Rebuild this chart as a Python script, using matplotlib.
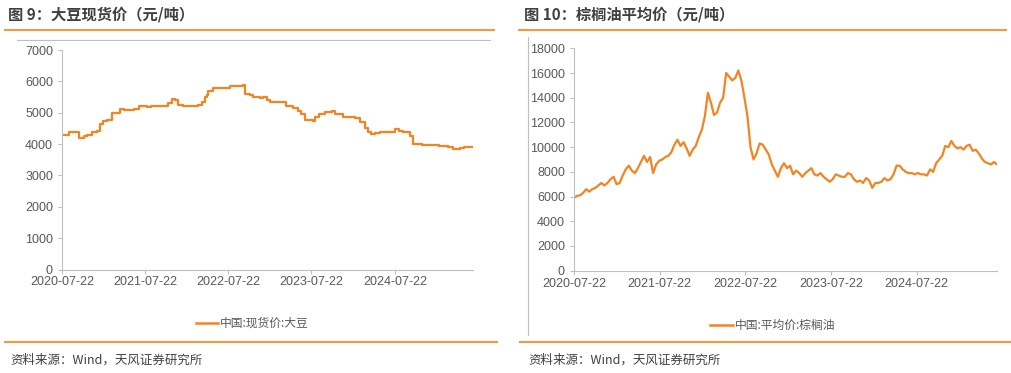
import pandas as pd
import matplotlib.pyplot as plt
from matplotlib.lines import Line2D

plt.rcParams['font.family'] = ['Noto Sans CJK SC', 'DejaVu Sans']

# Soybean spot price (step-like series): dates where the price changes and the new level
soy_dates = ['2020-07-22', '2020-08-20', '2020-09-10', '2020-10-03', '2020-10-25', '2020-11-10',
             '2020-11-30', '2020-12-22', '2021-01-06', '2021-01-20', '2021-02-04', '2021-02-26',
             '2021-04-01', '2021-04-20', '2021-06-01', '2021-06-23', '2021-07-29', '2021-08-15',
             '2021-10-10', '2021-11-01', '2021-11-16', '2021-11-28', '2021-12-15', '2022-01-06',
             '2022-03-13', '2022-03-27', '2022-04-10', '2022-04-18', '2022-04-26', '2022-05-17',
             '2022-07-29', '2022-09-26', '2022-10-03', '2022-10-25', '2022-11-09', '2022-12-10',
             '2022-12-22', '2023-01-06', '2023-01-22', '2023-03-05', '2023-04-01', '2023-05-03',
             '2023-05-25', '2023-06-08', '2023-06-25', '2023-07-29', '2023-08-06', '2023-08-25',
             '2023-09-18', '2023-10-20', '2023-11-01', '2023-12-08', '2024-01-05', '2024-01-28',
             '2024-02-20', '2024-03-12', '2024-03-28', '2024-04-10', '2024-04-28', '2024-05-16',
             '2024-07-21', '2024-08-10', '2024-08-27', '2024-09-25', '2024-10-09', '2024-10-21',
             '2024-11-20', '2024-12-21', '2025-01-30', '2025-03-12', '2025-04-05', '2025-05-02',
             '2025-05-20', '2025-06-20', '2025-06-30']
soy_values = [4280, 4380, 4400, 4180, 4250, 4300,
              4380, 4420, 4650, 4750, 4760, 4980,
              5130, 5080, 5130, 5200, 5170, 5200,
              5230, 5300, 5450, 5400, 5250, 5200,
              5250, 5350, 5500, 5550, 5700, 5780,
              5850, 5880, 5600, 5580, 5500, 5480,
              5500, 5400, 5350, 5350, 5200, 5150,
              5050, 4950, 4780, 4750, 4870, 4950,
              5020, 5050, 4950, 4870, 4870, 4820,
              4700, 4500, 4400, 4330, 4350, 4380,
              4480, 4420, 4380, 4250, 4000, 4000,
              3980, 3960, 3950, 3900, 3850, 3870,
              3900, 3920, 3900]

# Palm oil average price, read roughly every half month
palm_values = [5900, 6050, 6100, 6300, 6600, 6400, 6600, 6700, 6900, 7100,
               6900, 7100, 7400, 7600, 7000, 7100, 7700, 8200, 8500, 8100,
               7900, 8300, 8800, 9300, 8800, 9200, 7900, 8600, 8900, 9000,
               9200, 9300, 9600, 10200, 10600, 10100, 10400, 9900, 9300, 9800,
               10100, 10800, 11400, 12500, 14400, 13600, 12600, 12800, 13600, 14000,
               16000, 15700, 15400, 15600, 16200, 15400, 14000, 12500, 10000, 9000,
               9500, 10300, 10200, 9800, 9400, 8600, 8100, 7600, 8300, 8700,
               8300, 8500, 7800, 8100, 7900, 7600, 7900, 8100, 8300, 7800,
               7700, 7900, 7600, 7400, 7200, 7400, 7800, 7700, 7600, 7600,
               7900, 7800, 7400, 7200, 7300, 7100, 7500, 7300, 6700, 7100,
               7100, 7200, 7500, 7300, 7400, 7800, 8500, 8500, 8200, 8000,
               7900, 7900, 7800, 7900, 7800, 7800, 7700, 8200, 8000, 8700,
               9000, 9300, 10100, 10000, 10500, 10100, 9900, 10000, 9800, 10100,
               10200, 9700, 9800, 9500, 9100, 8800, 8700, 8600, 8800, 8600]
palm_dates = pd.date_range('2020-07-22', '2025-06-30', periods=len(palm_values))

tick_dates = pd.to_datetime(['2020-07-22', '2021-07-22', '2022-07-22', '2023-07-22', '2024-07-22'])
tick_labels = ['2020-07-22', '2021-07-22', '2022-07-22', '2023-07-22', '2024-07-22']

line_color = '#F28522'
rule_color = '#F39A3E'
grey = '#595959'
num_font = ['Liberation Sans', 'DejaVu Sans']

fig = plt.figure(figsize=(10.11, 3.73), dpi=100)


def style_axes(ax, ymax, ystep):
    ax.set_xlim(pd.Timestamp('2020-07-22'), pd.Timestamp('2025-06-30'))
    ax.set_ylim(0, ymax)
    ax.set_yticks(range(0, ymax + 1, ystep))
    ax.set_xticks(tick_dates)
    ax.set_xticklabels(tick_labels)
    for s in ['top', 'right']:
        ax.spines[s].set_visible(False)
    for s in ['left', 'bottom']:
        ax.spines[s].set_color('#BFBFBF')
        ax.spines[s].set_linewidth(0.8)
    ax.tick_params(axis='both', colors='#BFBFBF', labelcolor=grey, labelsize=9, length=3, width=0.8)
    ax.tick_params(axis='x', pad=2)
    for lab in ax.get_xticklabels() + ax.get_yticklabels():
        lab.set_family(num_font)


# left panel: soybean
ax1 = fig.add_axes([62 / 1011, 1 - 269.5 / 373, (473 - 62) / 1011, (269.5 - 50) / 373])
ax1.plot(pd.to_datetime(soy_dates), soy_values, color=line_color, lw=1.6, drawstyle='steps-post')
style_axes(ax1, 7000, 1000)

# right panel: palm oil
ax2 = fig.add_axes([574 / 1011, 1 - 270.7 / 373, (997 - 574) / 1011, (270.7 - 48.3) / 373])
ax2.plot(palm_dates, palm_values, color=line_color, lw=1.6)
style_axes(ax2, 18000, 2000)


# titles, rules, legends and source notes
def px(x, y):
    return x / 1011, 1 - y / 373


fig.text(*px(8, 15), '图 9：大豆现货价（元/吨）', fontsize=11, fontweight='bold', color='#404040', va='center')
fig.text(*px(524, 15), '图 10：棕榈油平均价（元/吨）', fontsize=11, fontweight='bold', color='#404040', va='center')

for x0, x1 in [(5, 494), (519, 1006)]:
    fig.add_artist(Line2D([x0 / 1011, x1 / 1011], [1 - 29.5 / 373] * 2, color=rule_color, lw=1.5))
for x0, x1 in [(5, 497), (520, 1010)]:
    fig.add_artist(Line2D([x0 / 1011, x1 / 1011], [1 - 342 / 373] * 2, color=rule_color, lw=1.5))

# chart frame pieces
fig.add_artist(Line2D([17 / 1011, 490 / 1011], [1 - 40 / 373] * 2, color='#BFBFBF', lw=0.8))
fig.add_artist(Line2D([528 / 1011] * 2, [1 - 37 / 373, 1 - 335 / 373], color='#BFBFBF', lw=0.8))

# legends
fig.add_artist(Line2D([196 / 1011, 218 / 1011], [1 - 323 / 373] * 2, color=line_color, lw=1.8))
fig.text(*px(220, 323), '中国:现货价:大豆', fontsize=8.5, color=grey, va='center')
fig.add_artist(Line2D([710 / 1011, 733 / 1011], [1 - 325 / 373] * 2, color=line_color, lw=1.8))
fig.text(*px(735, 325), '中国:平均价:棕榈油', fontsize=8.5, color=grey, va='center')

fig.text(*px(10, 360), '资料来源：Wind，天风证券研究所', fontsize=9, color='#404040', va='center')
fig.text(*px(528, 360), '资料来源：Wind，天风证券研究所', fontsize=9, color='#404040', va='center')

fig.savefig('out.png', dpi=100)
